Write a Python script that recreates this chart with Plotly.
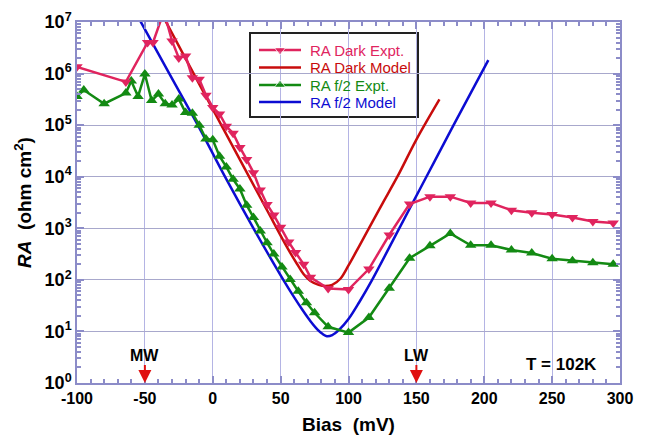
import plotly.graph_objects as go

# ---------------- data ----------------
bias_dark = [-100, -64, -48, -44, -36, -30, -25, -20, -15, -10, -5, 0, 5, 10, 15, 20, 25, 30,
             35, 40, 45, 50, 56, 61, 67, 72, 85, 100, 115, 130, 145, 160, 175, 190, 205,
             220, 235, 250, 265, 280, 295]
ra_dark = [1.35e6, 6.9e5, 4.0e6, 4.0e6, 1.6e7, 4.3e6, 2.0e6, 2.2e6, 8.3e5, 7.8e5, 3.8e5, 2.2e5,
           1.65e5, 9.5e4, 7.0e4, 3.7e4, 2.15e4, 1.2e4, 5.5e3, 2.9e3, 1.8e3, 1.05e3, 540, 340,
           200, 112, 68, 65, 162, 740, 2950, 4100, 4100, 3100, 3100, 2240, 2000, 1860, 1620,
           1350, 1260]

bias_f2 = [-100, -95, -80, -64, -60, -55, -50, -45, -40, -35, -30, -25, -20, -15, -10, -5, 0, 5,
           10, 15, 20, 25, 30, 35, 40, 45, 51, 57, 63, 69, 75, 85, 100, 115, 130, 145, 160, 175,
           190, 205, 220, 235, 250, 265, 280, 295]
ra_f2 = [3.6e5, 4.8e5, 2.6e5, 4.2e5, 7.2e5, 3.6e5, 9.8e5, 3.0e5, 4.0e5, 2.6e5, 2.45e5, 3.2e5,
         1.75e5, 1.7e5, 1.0e5, 5.4e4, 5.2e4, 2.5e4, 1.55e4, 8.9e3, 5.8e3, 2.8e3, 1.62e3, 890,
         525, 316, 178, 102, 60, 36, 23, 12.3, 9.5, 18.6, 69, 263, 457, 794, 468, 468, 380, 331,
         257, 234, 214, 200]

bias_dark_model = [-36, -20, 0, 20, 40, 55, 62, 67, 72, 78, 83, 88, 94, 100, 108, 115, 125, 136,
                   150, 167]
ra_dark_model = [1.2e7, 1.95e6, 2.04e5, 2.14e4, 2.24e3, 417, 205, 128, 95, 80, 76, 80, 105, 190,
                 457, 1000, 3020, 1.0e4, 5.25e4, 3.16e5]

bias_f2_model = [-54, -32, -11, 9, 30, 52, 60, 66, 72, 77, 81, 84, 88, 93, 100, 108, 117, 137,
                 157, 177, 203]
ra_f2_model = [1.12e7, 1.0e6, 1.0e5, 1.0e4, 1000, 100, 45.7, 26.3, 15.8, 11.0, 8.9, 8.1, 8.5,
               10.7, 17.4, 37.2, 95.5, 955, 9550, 9.55e4, 1.82e6]

x_tick_vals = [-100, -50, 0, 50, 100, 150, 200, 250, 300]
y_tick_exps = [0, 1, 2, 3, 4, 5, 6, 7]

legend_labels = ["RA Dark Expt.", "RA Dark Model", "RA f/2 Expt.", "RA f/2 Model"]

# ---------------- styling ----------------
PINK = "#e0245e"
RED = "#c80c0c"
GREEN = "#138a13"
BLUE = "#0c0cd2"
FONT = "Liberation Sans"
AXCOL = "#8c8cc8"

W, H = 646, 435
ML, MR, MT, MB = 77, 26, 22, 52
PW, PH = W - ML - MR, H - MT - MB


def px(xp):
    return (xp - ML) / PW


def py(yp):
    return (H - MB - yp) / PH


fig = go.Figure()

fig.add_trace(go.Scatter(
    x=bias_dark_model, y=ra_dark_model, mode="lines", line_shape="spline",
    line=dict(color=RED, width=2.5), name=legend_labels[1], showlegend=False))
fig.add_trace(go.Scatter(
    x=bias_f2_model, y=ra_f2_model, mode="lines", line_shape="spline",
    line=dict(color=BLUE, width=2.5), name=legend_labels[3], showlegend=False))
fig.add_trace(go.Scatter(
    x=bias_f2, y=ra_f2, mode="lines+markers",
    line=dict(color=GREEN, width=2.5),
    marker=dict(symbol="triangle-up", size=10, color=GREEN),
    name=legend_labels[2], showlegend=False))
fig.add_trace(go.Scatter(
    x=bias_dark, y=ra_dark, mode="lines+markers",
    line=dict(color=PINK, width=2.5),
    marker=dict(symbol="triangle-down", size=10, color=PINK),
    name=legend_labels[0], showlegend=False))

# ---------------- hand-built legend (box, sample lines, coloured text) ----------------
leg_styles = [(PINK, "triangle-down", True), (RED, None, False),
              (GREEN, "triangle-up", True), (BLUE, None, False)]
leg_rows = [50, 67.5, 85, 102]
fig.add_shape(type="rect", xref="paper", yref="paper",
              x0=px(250), x1=px(418), y0=py(117), y1=py(33),
              line=dict(color="#222222", width=2), fillcolor="white", layer="between")
for label, (col, sym, mk), yr in zip(legend_labels, leg_styles, leg_rows):
    fig.add_trace(go.Scatter(
        x=[px(259), px(280), px(301)], y=[py(yr)] * 3, xaxis="x2", yaxis="y2",
        mode="lines+markers" if mk else "lines",
        line=dict(color=col, width=2.5),
        marker=dict(symbol=sym or "circle", size=[0, 10, 0], color=col),
        showlegend=False, hoverinfo="skip", cliponaxis=False))
    fig.add_annotation(x=px(308), y=py(yr), xref="paper", yref="paper",
                       xanchor="left", yanchor="middle", showarrow=False,
                       text=label, font=dict(family=FONT, size=15, color=col))

minor_y = [m * 10 ** e for e in range(0, 7) for m in range(2, 10)]

fig.update_layout(
    width=W, height=H,
    margin=dict(l=ML, r=MR, t=MT, b=MB),
    paper_bgcolor="white", plot_bgcolor="white",
    font=dict(family=FONT, color="black"),
    showlegend=False,
    xaxis=dict(
        range=[-100, 300], tickmode="array", tickvals=x_tick_vals,
        ticktext=[f"<b>{v}</b>" for v in x_tick_vals],
        tickfont=dict(family=FONT, size=16, color="black"),
        ticks="inside", ticklen=7, tickcolor=AXCOL, tickwidth=1.5,
        showline=True, linecolor=AXCOL, linewidth=1.5, mirror="allticks",
        showgrid=True, gridcolor="#b4b4e4", gridwidth=1, zeroline=False,
        minor=dict(dtick=10, ticks="inside", ticklen=4, tickcolor=AXCOL, showgrid=False),
        automargin=False,
        title=dict(text="<b>Bias  (mV)</b>", font=dict(family=FONT, size=19), standoff=13),
    ),
    yaxis=dict(
        type="log", range=[0, 7], tickmode="array",
        tickvals=[10 ** e for e in y_tick_exps],
        ticktext=[f"<b>10<sup>{e}</sup></b>" for e in y_tick_exps],
        tickfont=dict(family=FONT, size=18, color="black"),
        ticks="inside", ticklen=7, tickcolor=AXCOL, tickwidth=1.5,
        showline=True, linecolor=AXCOL, linewidth=1.5, mirror="allticks",
        showgrid=True, gridcolor="#a8a8cc", gridwidth=1, zeroline=False,
        minor=dict(tickmode="array", tickvals=minor_y, ticks="inside", ticklen=4,
                   tickcolor=AXCOL, showgrid=False),
        automargin=False,
        title=dict(text="<b><i>RA</i>  (ohm cm<sup>2</sup>)</b>",
                   font=dict(family=FONT, size=19), standoff=8),
    ),
    xaxis2=dict(overlaying="x", range=[0, 1], visible=False, fixedrange=True),
    yaxis2=dict(overlaying="y", range=[0, 1], visible=False, fixedrange=True),
)

for label, xv in [("MW", -50), ("LW", 150)]:
    fig.add_annotation(
        x=xv, y=0, xref="x", yref="y", text=f"<b>{label}</b>",
        showarrow=True, ax=0, ay=-28, arrowhead=2, arrowsize=1.3, arrowwidth=2,
        arrowcolor="#e01010", font=dict(family=FONT, size=16, color="black"))

fig.add_annotation(
    x=257, y=0.35, xref="x", yref="y", text="<b>T = 102K</b>", showarrow=False,
    font=dict(family=FONT, size=17, color="black"))

fig.write_html("out.html")
